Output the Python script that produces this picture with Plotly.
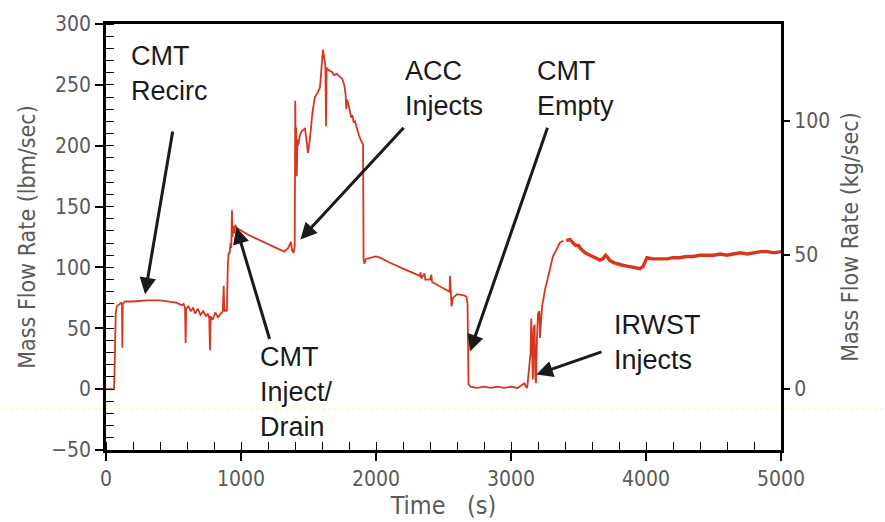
import plotly.graph_objects as go

# ---- data ----
time_s = [0, 60, 66, 72, 80, 100, 112, 118, 121, 124, 140, 200, 300, 400, 480, 520, 560, 575, 585, 590, 594,
          610, 630, 645, 660, 680, 700, 720, 740, 755, 765, 770, 775, 790, 810, 830, 850, 865, 872, 876, 885,
          895, 902, 908, 915, 922, 928, 933, 937, 942, 950, 958, 965, 975, 1050, 1150, 1250, 1320, 1350, 1370,
          1378, 1390, 1398, 1402, 1406, 1409, 1413, 1418, 1424, 1435, 1450, 1474, 1485, 1496, 1510, 1530, 1548,
          1570, 1585, 1600, 1607, 1617, 1625, 1630, 1634, 1650, 1670, 1690, 1710, 1730, 1750, 1765, 1775, 1780,
          1785, 1795, 1807, 1815, 1825, 1835, 1845, 1859, 1875, 1890, 1904, 1908, 1914, 1925, 1960, 2000, 2030,
          2100, 2200, 2300, 2326, 2330, 2335, 2360, 2365, 2400, 2410, 2415, 2450, 2480, 2500, 2530, 2545, 2548,
          2552, 2560, 2570, 2600, 2650, 2670, 2678, 2681, 2685, 2700, 2750, 2800, 2850, 2900, 2950, 3000, 3050,
          3100, 3110, 3120, 3145, 3150, 3155, 3162, 3168, 3175, 3180, 3185, 3192, 3200, 3210, 3215, 3222, 3230,
          3240, 3252, 3270, 3289, 3310, 3340, 3360, 3387, 3410]
flow_lbm = [0, 0, 30, 62, 68, 70, 71, 70, 34, 70, 72, 72, 73, 73, 72, 71, 69, 70, 67, 38, 66,
            68, 64, 67, 62, 66, 61, 64, 60, 62, 58, 32, 60, 57, 63, 59, 62, 64, 85, 64, 65,
            64, 100, 112, 111, 120, 116, 147, 125, 134, 128, 135, 133, 132, 127, 122, 117, 113, 116, 121,
            114, 112, 118, 237, 190, 215, 175, 205, 200, 208, 212, 214, 205, 194, 205, 228, 240,
            244, 248, 268, 279, 272, 266, 216, 264, 262, 261, 258, 259, 257, 255, 250, 242, 230,
            238, 234, 229, 224, 225, 219, 220, 214, 208, 204, 201, 107, 103, 107, 108, 109, 108,
            104, 99, 94, 93, 96, 91, 95, 90, 90, 94, 88, 86, 84, 83, 81, 80, 93,
            79, 68, 75, 78, 77, 76, 70, 20, 4, 2, 1, 2, 1, 2, 1, 2,
            1, 5, 2, 1, 30, 58, 20, 8, 50, 53, 10, 5, 40, 62, 64, 42, 55,
            68, 74, 82, 90, 100, 109, 115, 120, 122]
time_late_s = [3410, 3437, 3460, 3480, 3500, 3511, 3530, 3550, 3585, 3620, 3659, 3680, 3700, 3711, 3730, 3760,
               3785, 3820, 3860, 3904, 3930, 3956, 3980, 4007, 4050, 4100, 4156, 4200, 4250, 4300, 4350, 4400,
               4450, 4500, 4550, 4600, 4644, 4700, 4750, 4800, 4850, 4896, 4950, 5000]
flow_late_lbm = [122, 123, 120, 118, 118, 116, 114, 112, 110, 108, 106, 107, 110, 109, 106, 104,
                 103, 102, 101, 100, 100, 99, 101, 108, 107, 107, 107, 108, 108, 109, 109, 110,
                 110, 110, 111, 110, 111, 112, 111, 112, 113, 113, 112, 113]

LBM_PER_KG = 2.20462
y_range_lbm = [-50, 300]
x_range = [0, 5000]

text_font = dict(family="Liberation Sans, Arial, sans-serif", size=27, color="#1a1a1a")
axis_font = "Liberation Sans Narrow, DejaVu Sans Condensed, sans-serif"
gray = "#5a5a5a"
red = "#d8361c"

# label text blocks: (text, left time, centre lbm)
labels = [
    ("CMT<br>Recirc", 170, 259),
    ("ACC<br>Injects", 2200, 247),
    ("CMT<br>Empty", 3175, 247),
    ("CMT<br>Inject/<br>Drain", 1125, -2),
    ("IRWST<br>Injects", 3745, 38),
]
# arrows: (tail t, tail lbm, tip t, tip lbm)
arrows = [
    (496, 213, 289, 78),
    (1215, 40, 965, 133),
    (2215, 216, 1440, 123),
    (3274, 216, 2696, 31),
    (3681, 31, 3188, 12),
]

fig = go.Figure()
fig.add_trace(go.Scatter(x=time_s, y=flow_lbm, mode="lines",
                         line=dict(color=red, width=1.8), showlegend=False, hoverinfo="skip"))
fig.add_trace(go.Scatter(x=time_late_s, y=flow_late_lbm, mode="lines",
                         line=dict(color=red, width=3.4), showlegend=False, hoverinfo="skip"))
# helper trace so that the right-hand axis renders
fig.add_trace(go.Scatter(x=[None], y=[None], xaxis="x", yaxis="y2", showlegend=False, hoverinfo="skip"))

for txt, tx, ty in labels:
    fig.add_annotation(x=tx, y=ty, xref="x", yref="y", text=txt, showarrow=False,
                       xanchor="left", yanchor="middle", align="left", font=text_font)
for ax_, ay_, x_, y_ in arrows:
    fig.add_annotation(x=x_, y=y_, ax=ax_, ay=ay_, xref="x", yref="y", axref="x", ayref="y",
                       text="", showarrow=True, arrowhead=2, arrowsize=1.1, arrowwidth=3,
                       arrowcolor="#1a1a1a")

common = dict(showgrid=False, zeroline=False)
fig.update_layout(
    width=885, height=522,
    margin=dict(l=106, r=104, t=12, b=69),
    paper_bgcolor="white", plot_bgcolor="white",
    xaxis=dict(range=x_range, dtick=1000, tick0=0, ticks="outside", ticklen=8, tickwidth=1.5,
               tickcolor="black", showline=True, linecolor="black", linewidth=2.5, mirror=True,
               minor=dict(ticks="inside", dtick=200, tick0=0, ticklen=8, tickwidth=1.2,
                          tickcolor="black", showgrid=False),
               tickfont=dict(family=axis_font, size=21, color=gray),
               title=dict(text="Time   (s)", font=dict(family=axis_font, size=25, color=gray), standoff=2),
               **common),
    yaxis=dict(range=y_range_lbm, dtick=50, tick0=0, ticks="outside", ticklen=8, tickwidth=1.5,
               tickcolor="black", showline=True, linecolor="black", linewidth=2.5, mirror=True,
               minor=dict(ticks="inside", dtick=10, tick0=0, ticklen=8, tickwidth=1.2,
                          tickcolor="black", showgrid=False),
               tickfont=dict(family=axis_font, size=21, color=gray),
               title=dict(text="Mass Flow Rate (lbm/sec)", font=dict(family=axis_font, size=23, color=gray),
                          standoff=10),
               **common),
    yaxis2=dict(range=[y_range_lbm[0] / LBM_PER_KG, y_range_lbm[1] / LBM_PER_KG], overlaying="y",
                side="right", anchor="x", dtick=50, tick0=0, ticks="outside", ticklen=8, tickwidth=1.5,
                tickcolor="black", showline=False,
                tickfont=dict(family=axis_font, size=21, color=gray),
                title=dict(text="Mass Flow Rate (kg/sec)", font=dict(family=axis_font, size=23, color=gray),
                           standoff=12),
                **common),
)
fig.add_shape(type="line", xref="paper", yref="paper", x0=-0.16, x1=1.16, y0=0.097, y1=0.097,
              line=dict(color="rgba(245,235,140,0.55)", width=1, dash="dot"), layer="below")

fig.write_html("out.html")
